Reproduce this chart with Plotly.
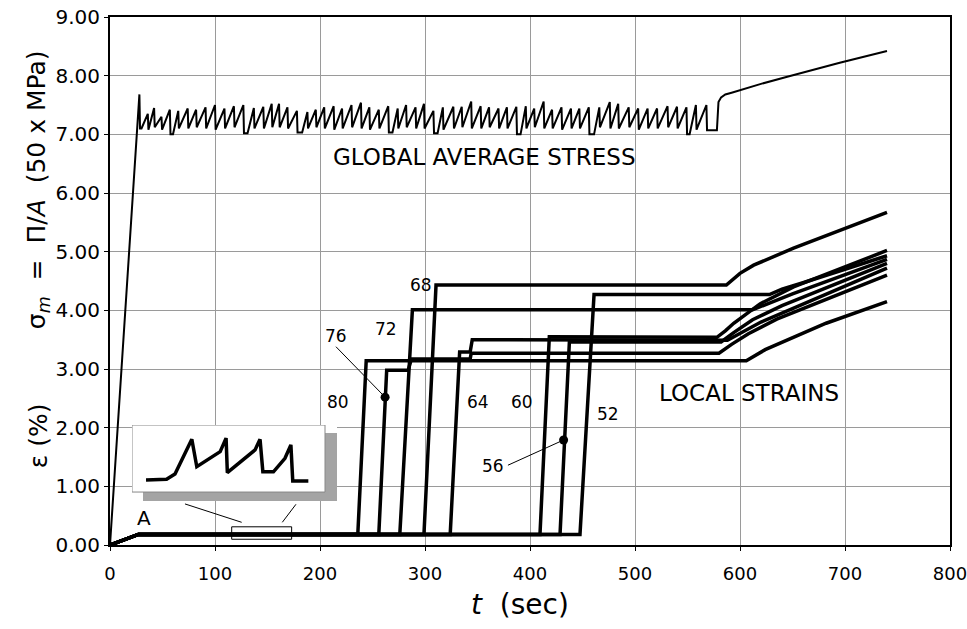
import plotly.graph_objects as go

FONT = "DejaVu Sans"

# ---------------- data ----------------
# global average stress: sawtooth teeth (rise start, low value, peak time, peak value)
stress_start_t = [0, 28]
stress_start_v = [0.0, 7.68]
peak_t = [36, 42, 49, 57, 65, 74, 82, 91, 100, 109,
          118, 127, 137, 146, 154, 161, 169, 178, 188, 196,
          204, 213, 221, 230, 239, 247, 256, 265, 274, 282,
          291, 299, 308, 317, 327, 335, 344, 353, 361, 370,
          378, 387, 396, 404, 413, 421, 430, 439, 447, 456,
          466, 476, 484, 494, 503, 512, 521, 531, 540, 549,
          558, 568]
peak_v = [7.35, 7.45, 7.30, 7.42, 7.40, 7.44, 7.42, 7.46, 7.50, 7.44,
          7.48, 7.50, 7.45, 7.47, 7.52, 7.52, 7.46, 7.40, 7.38, 7.42,
          7.46, 7.48, 7.44, 7.50, 7.54, 7.46, 7.42, 7.48, 7.44, 7.50,
          7.46, 7.52, 7.40, 7.46, 7.47, 7.47, 7.56, 7.48, 7.46, 7.44,
          7.46, 7.47, 7.48, 7.44, 7.56, 7.42, 7.46, 7.44, 7.44, 7.46,
          7.46, 7.55, 7.52, 7.46, 7.44, 7.44, 7.44, 7.48, 7.47, 7.46,
          7.50, 7.50]
rise_t = [30, 36.8, 42.8, 49.8, 60, 65.8, 74.8, 82.8, 91.8, 100.8,
          109.8, 118.8, 131, 137.8, 146.8, 154.8, 161.8, 169.8, 183, 188.8,
          196.8, 204.8, 213.8, 221.8, 230.8, 239.8, 247.8, 256.8, 269, 274.8,
          282.8, 291.8, 299.8, 312, 317.8, 327.8, 335.8, 344.8, 353.8, 361.8,
          370.8, 378.8, 391, 396.8, 404.8, 413.8, 421.8, 430.8, 439.8, 447.8,
          461, 466.8, 476.8, 484.8, 494.8, 503.8, 512.8, 521.8, 531.8, 540.8,
          552, 558.8]
low_v = [7.10, 7.08, 7.12, 7.08, 7.00, 7.10, 7.10, 7.12, 7.10, 7.08,
         7.10, 7.12, 7.02, 7.10, 7.10, 7.12, 7.12, 7.10, 7.03, 7.10,
         7.12, 7.10, 7.08, 7.10, 7.12, 7.10, 7.08, 7.10, 7.03, 7.10,
         7.12, 7.10, 7.10, 7.02, 7.08, 7.10, 7.12, 7.10, 7.10, 7.12,
         7.10, 7.10, 7.00, 7.10, 7.12, 7.10, 7.10, 7.08, 7.10, 7.10,
         7.00, 7.12, 7.10, 7.10, 7.12, 7.08, 7.10, 7.10, 7.12, 7.10,
         7.00, 7.08]
stress_tail_t = [568.6, 578, 579.5, 582, 586, 592, 620, 645, 695, 740]
stress_tail_v = [7.07, 7.07, 7.55, 7.63, 7.68, 7.71, 7.86, 7.98, 8.22, 8.42]

# local strains (%)
s80_t = [0, 27, 236, 244, 606, 614, 624, 682, 740]
s80_e = [0, 0.18, 0.18, 3.14, 3.14, 3.22, 3.33, 3.78, 4.15]
s76_t = [0, 27, 256, 263.5, 284, 287, 343, 344, 580, 592, 608, 635, 740]
s76_e = [0, 0.18, 0.18, 2.98, 2.98, 3.17, 3.17, 3.27, 3.27, 3.42, 3.60, 3.85, 4.60]
s72_t = [0, 27, 276, 288, 612, 625, 650, 740]
s72_e = [0, 0.18, 0.18, 4.01, 4.01, 4.10, 4.28, 4.87]
s68_t = [0, 27, 299, 310.5, 587, 600, 613, 651, 740]
s68_e = [0, 0.18, 0.18, 4.43, 4.43, 4.63, 4.77, 5.06, 5.67]
s64_t = [0, 27, 324, 333, 343, 345, 588, 602, 620, 650, 740]
s64_e = [0, 0.18, 0.18, 3.29, 3.29, 3.50, 3.49, 3.63, 3.80, 4.03, 4.72]
s60_t = [0, 27, 409.5, 418.4, 578, 586, 594, 619, 651, 740]
s60_e = [0, 0.18, 0.18, 3.55, 3.54, 3.65, 3.78, 4.11, 4.40, 5.02]
s56_t = [0, 27, 428.6, 437.5, 582, 594, 612, 640, 740]
s56_e = [0, 0.18, 0.18, 3.46, 3.46, 3.62, 3.84, 4.08, 4.80]
s52_t = [0, 27, 447.6, 461, 628, 640, 660, 740]
s52_e = [0, 0.18, 0.18, 4.27, 4.27, 4.36, 4.47, 4.93]

strain_curves = [("80", s80_t, s80_e), ("76", s76_t, s76_e), ("72", s72_t, s72_e),
                 ("68", s68_t, s68_e), ("64", s64_t, s64_e), ("60", s60_t, s60_e),
                 ("56", s56_t, s56_e), ("52", s52_t, s52_e)]

# inset: magnified strain detail (region marked A)
inset_t = [118, 124.6, 127.3, 132.7, 134.3, 141.8, 143.7, 144.1, 153.0, 154.6,
           155.5, 158.9, 162.6, 164.5, 165.1, 170.1]
inset_e = [0.1804, 0.1806, 0.1825, 0.1949, 0.1851, 0.1905, 0.1953, 0.1830, 0.1911, 0.1949,
           0.1833, 0.1833, 0.1881, 0.1929, 0.1800, 0.1800]

curve_labels = ["68", "72", "76", "80", "64", "60", "52", "56"]
label_t = [296, 263, 215, 217, 350, 392, 474, 365]
label_y = [4.43, 3.69, 3.56, 2.44, 2.44, 2.44, 2.23, 1.35]

dot_t = [262, 432]
dot_y = [2.52, 1.79]

x_ticks = [0, 100, 200, 300, 400, 500, 600, 700, 800]
y_ticks = [0, 1, 2, 3, 4, 5, 6, 7, 8, 9]

# ---------------- build stress path from teeth ----------------
st = list(stress_start_t)
sv = list(stress_start_v)
prev = stress_start_t[-1]
for i in range(len(peak_t)):
    st.append(prev + 0.6)
    sv.append(low_v[i])
    if rise_t[i] > prev + 0.9:
        st.append(rise_t[i])
        sv.append(low_v[i])
    st.append(peak_t[i])
    sv.append(peak_v[i])
    prev = peak_t[i]
st += stress_tail_t
sv += stress_tail_v

# inset axes ranges
X2R = [113.5, 179.3]
Y2R = [0.17286, 0.2]


def frac_rect(fx0, fx1, fy0, fy1):
    xa = [X2R[0] + f * (X2R[1] - X2R[0]) for f in (fx0, fx1, fx1, fx0, fx0)]
    ya = [Y2R[0] + f * (Y2R[1] - Y2R[0]) for f in (fy0, fy0, fy1, fy1, fy0)]
    return xa, ya


fig = go.Figure()

fig.add_trace(go.Scatter(x=st, y=sv, mode="lines",
                         line=dict(color="black", width=2), showlegend=False,
                         hoverinfo="skip"))
for name, t, e in strain_curves:
    fig.add_trace(go.Scatter(x=t, y=e, mode="lines", name=name,
                             line=dict(color="black", width=3.5), showlegend=False))

fig.add_trace(go.Scatter(x=dot_t, y=dot_y, mode="markers",
                         marker=dict(color="black", size=9), showlegend=False))

# inset shadow + box (decoration) and inset trace
sx, sy = frac_rect(0.0537, 1.0, 0.0, 0.895)
fig.add_trace(go.Scatter(x=sx, y=sy, mode="lines", fill="toself", xaxis="x2", yaxis="y2",
                         fillcolor="#a4a4a4", line=dict(width=0, color="#a4a4a4"),
                         showlegend=False, hoverinfo="skip"))
bx, by = frac_rect(0.0, 0.9415, 0.118, 1.0)
fig.add_trace(go.Scatter(x=bx, y=by, mode="lines", fill="toself", xaxis="x2", yaxis="y2",
                         fillcolor="white", line=dict(width=1, color="#888888"),
                         showlegend=False, hoverinfo="skip"))
fig.add_trace(go.Scatter(x=inset_t, y=inset_e, mode="lines", xaxis="x2", yaxis="y2",
                         line=dict(color="black", width=3.5), showlegend=False))

axis_common = dict(showgrid=True, gridcolor="#9a9a9a", gridwidth=1,
                   showline=True, linecolor="black", linewidth=2, mirror=True,
                   ticks="outside", ticklen=4, tickcolor="black", zeroline=False,
                   automargin=False)

fig.update_layout(
    width=967, height=629,
    margin=dict(l=110, r=17, t=17, b=84, autoexpand=False),
    paper_bgcolor="white", plot_bgcolor="white",
    xaxis=dict(range=[0, 800], tickvals=x_ticks, ticklabelstandoff=7,
               ticklabeloverflow="allow",
               tickfont=dict(family=FONT, size=18, color="black"), **axis_common),
    yaxis=dict(range=[0, 9], tickvals=y_ticks, tickformat=".2f",
               ticklabeloverflow="allow",
               tickfont=dict(family=FONT, size=20, color="black"), **axis_common),
    xaxis2=dict(domain=[0.02619, 0.27024], range=X2R, visible=False,
                anchor="y2", showgrid=False, fixedrange=True),
    yaxis2=dict(domain=[0.08333, 0.22727], range=Y2R, visible=False,
                anchor="x2", showgrid=False, fixedrange=True),
)

shapes = [
    # zoom rectangle on strain baseline
    dict(type="rect", xref="x", yref="y", x0=115.9, x1=173, y0=0.098, y1=0.31,
         line=dict(color="black", width=1)),
    # leader lines from inset
    dict(type="line", xref="x", yref="y", x0=71.4, y0=0.70, x1=125.4, y1=0.387,
         line=dict(color="black", width=1)),
    dict(type="line", xref="x", yref="y", x0=177.1, y0=0.694, x1=164.1, y1=0.387,
         line=dict(color="black", width=1)),
    # label leaders for 76 and 56
    dict(type="line", xref="x", yref="y", x0=215.2, y0=3.38, x1=262, y1=2.52,
         line=dict(color="black", width=1)),
    dict(type="line", xref="x", yref="y", x0=379, y0=1.36, x1=432, y1=1.79,
         line=dict(color="black", width=1)),
]
fig.update_layout(shapes=shapes)

ann = []
for lab, tx, ty in zip(curve_labels, label_t, label_y):
    ann.append(dict(x=tx, y=ty, xref="x", yref="y", text=lab, showarrow=False,
                    font=dict(family=FONT, size=17, color="black")))
ann.append(dict(x=357, y=6.61, xref="x", yref="y", text="GLOBAL AVERAGE STRESS",
                showarrow=False, font=dict(family=FONT, size=23, color="black")))
ann.append(dict(x=609, y=2.59, xref="x", yref="y", text="LOCAL STRAINS",
                showarrow=False, font=dict(family=FONT, size=23, color="black")))
ann.append(dict(x=32.7, y=0.455, xref="x", yref="y", text="A",
                showarrow=False, font=dict(family=FONT, size=20, color="black")))
ann.append(dict(x=0.488, y=-0.1136, xref="paper", yref="paper",
                text="<i>t</i>  (sec)", showarrow=False, yanchor="middle",
                font=dict(family=FONT, size=28, color="black")))
ann.append(dict(x=-0.0857, y=0.672, xref="paper", yref="paper", textangle=-90,
                text="σ<sub><i>m</i></sub>  =  Π/<i>A</i>  (50 x MPa)", showarrow=False,
                xanchor="center", yanchor="middle",
                font=dict(family=FONT, size=25, color="black")))
ann.append(dict(x=-0.0857, y=0.206, xref="paper", yref="paper", textangle=-90,
                text="ε (%)", showarrow=False, xanchor="center", yanchor="middle",
                font=dict(family=FONT, size=25, color="black")))
fig.update_layout(annotations=ann)

fig.write_html("out.html")
